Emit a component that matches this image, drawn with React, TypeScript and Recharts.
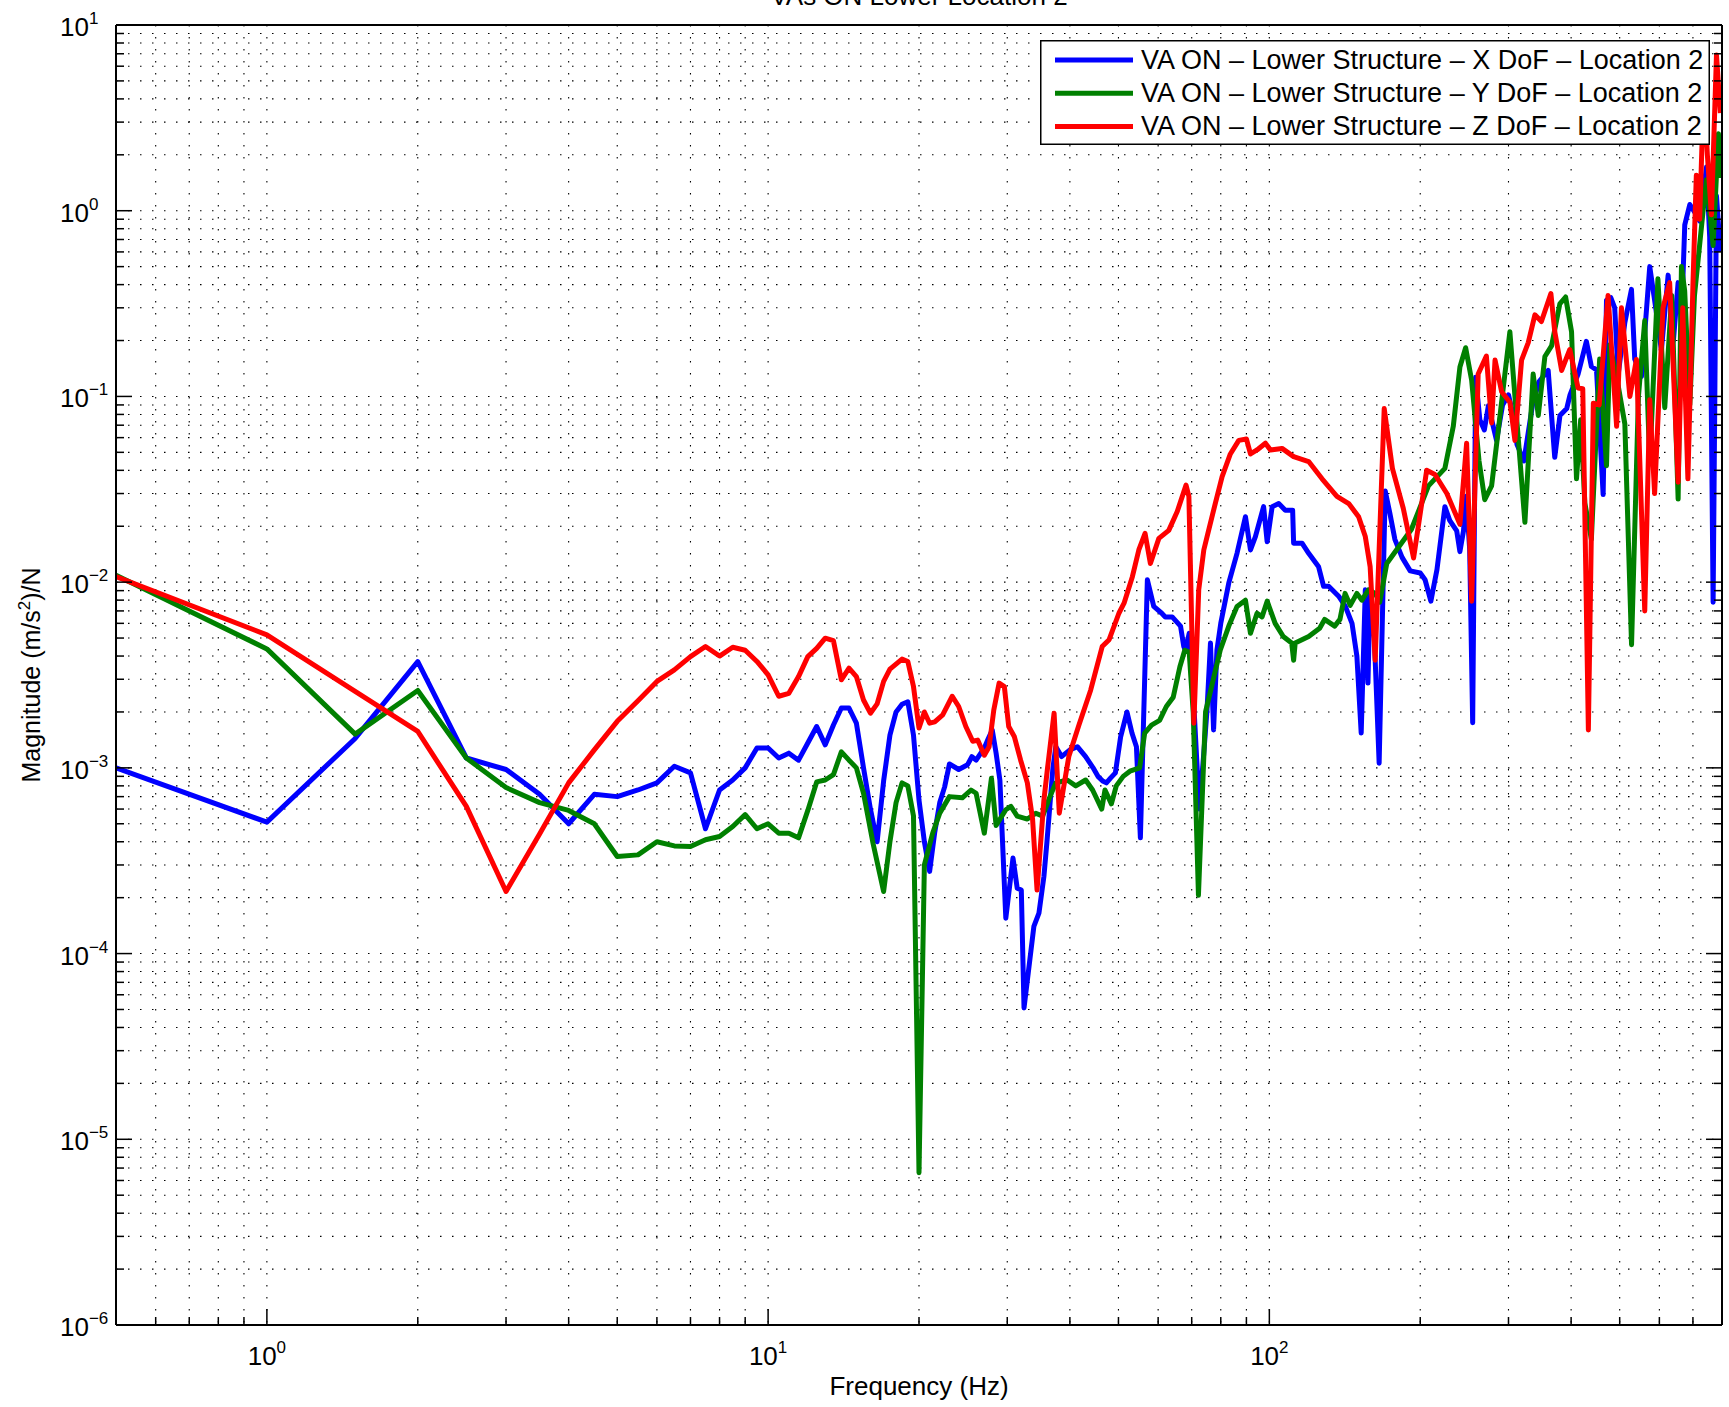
import React from 'react';
import { LineChart, Line, XAxis, YAxis, CartesianGrid, Legend, Label } from 'recharts';

const FONT = '"Liberation Sans", Arial, Helvetica, sans-serif';

// [frequency (Hz), magnitude ((m/s^2)/N)]
const xDof: [number, number][] = [
  [0.5, 1.0e-3], [1, 5.1e-4], [1.5, 1.44e-3], [2, 3.73e-3], [2.5, 1.13e-3], [3, 9.8e-4], [3.5, 7.2e-4],
  [4, 5.0e-4], [4.5, 7.2e-4], [5, 7.0e-4], [5.5, 7.6e-4], [6, 8.3e-4], [6.5, 1.02e-3], [7, 9.4e-4],
  [7.5, 4.7e-4], [8, 7.6e-4], [8.5, 8.6e-4], [9, 1.0e-3], [9.5, 1.28e-3], [10, 1.28e-3], [10.5, 1.13e-3],
  [11, 1.2e-3], [11.5, 1.1e-3], [12, 1.36e-3], [12.5, 1.67e-3], [13, 1.33e-3], [13.5, 1.7e-3], [14, 2.1e-3],
  [14.5, 2.1e-3], [15, 1.74e-3], [15.5, 1.0e-3], [16, 6.0e-4], [16.5, 4.0e-4], [17, 8.5e-4], [17.5, 1.5e-3],
  [18, 2.0e-3], [18.5, 2.2e-3], [19, 2.27e-3], [19.5, 1.5e-3], [20, 6.7e-4], [20.5, 4.0e-4], [21, 2.77e-4],
  [21.5, 4.5e-4], [22, 6.5e-4], [22.5, 7.9e-4], [23, 1.05e-3], [24, 9.8e-4], [25, 1.04e-3], [25.5, 1.15e-3],
  [26, 1.1e-3], [27, 1.28e-3], [27.5, 1.44e-3], [28, 1.6e-3], [28.5, 1.2e-3], [29, 8.6e-4], [29.8, 1.55e-4],
  [30.8, 3.27e-4], [31.4, 2.25e-4], [32, 2.2e-4], [32.4, 5.1e-5], [33.9, 1.4e-4], [34.7, 1.65e-4],
  [35.5, 2.6e-4], [36, 4.0e-4], [37, 1.0e-3], [37.5, 1.3e-3], [38.5, 1.15e-3], [40, 1.25e-3], [41.4, 1.3e-3],
  [43, 1.15e-3], [44.5, 1.0e-3], [45.5, 9.0e-4], [46.5, 8.5e-4], [47.3, 8.3e-4], [48.2, 8.8e-4],
  [49.3, 9.4e-4], [50.5, 1.47e-3], [52, 2.0e-3], [53.2, 1.54e-3], [54.3, 1.3e-3], [55.3, 4.2e-4],
  [57.1, 1.03e-2], [58.8, 7.4e-3], [61, 6.8e-3], [62, 6.5e-3], [64, 6.5e-3], [66.5, 5.8e-3], [67.5, 4.5e-3],
  [68, 4.3e-3], [69.2, 5.3e-3], [70.5, 2.5e-3], [72.5, 6.0e-4], [74, 1.2e-3], [75.1, 2.05e-3], [76.3, 4.7e-3],
  [77.4, 1.6e-3], [78.6, 4.3e-3], [80, 6.0e-3], [83, 9.9e-3], [86.2, 1.43e-2], [89.6, 2.25e-2],
  [91.7, 1.49e-2], [93.8, 1.76e-2], [97.4, 2.55e-2], [99, 1.65e-2], [101.3, 2.55e-2], [104.4, 2.65e-2],
  [107.6, 2.44e-2], [111.3, 2.44e-2], [111.8, 1.62e-2], [116.2, 1.62e-2], [119.8, 1.43e-2], [125.4, 1.21e-2],
  [128.3, 9.5e-3], [131.3, 9.5e-3], [137.5, 8.4e-3], [141.8, 7.4e-3], [146.2, 6.0e-3], [149.5, 4.0e-3],
  [152.5, 1.54e-3], [155.4, 9.1e-3], [157.3, 2.86e-3], [158.9, 9.1e-3], [162, 5.0e-3], [165.6, 1.06e-3],
  [170.3, 3.1e-2], [174, 2.34e-2], [178, 1.7e-2], [184, 1.36e-2], [191, 1.15e-2], [200, 1.12e-2],
  [204.5, 1.03e-2], [210, 7.9e-3], [216, 1.17e-2], [224, 2.55e-2], [229, 2.15e-2], [236.5, 1.89e-2],
  [240, 1.46e-2], [244, 1.89e-2], [247, 2.9e-2], [251, 1.5e-2], [254.5, 1.75e-3], [258, 0.127],
  [263, 7.5e-2], [268.5, 6.6e-2], [273.5, 8.9e-2], [284, 5.8e-2], [292, 9.0e-2], [300, 0.102],
  [306.7, 7.85e-2], [312, 5.5e-2], [322, 4.5e-2], [335, 9.0e-2], [345, 0.12], [360, 0.138], [371, 4.7e-2],
  [380, 7.9e-2], [392, 8.6e-2], [398, 0.102], [413, 0.132], [429, 0.198], [439, 0.145], [449.5, 0.139],
  [463.4, 2.96e-2], [470.6, 0.33], [480, 0.34], [488.7, 0.3], [496.5, 0.131], [512, 0.25], [527.8, 0.377],
  [535.8, 0.159], [552.5, 0.128], [574, 0.5], [590, 0.3], [605.6, 0.177], [624.6, 0.45], [640, 0.2],
  [653.9, 0.41], [664, 0.25], [674.2, 0.84], [690, 1.08], [706, 0.98], [722, 0.88], [745, 1.72], [756, 0.72],
  [768, 7.8e-3], [780, 1.2], [794, 0.6],
];

const yDof: [number, number][] = [
  [0.5, 1.09e-2], [1, 4.37e-3], [1.5, 1.52e-3], [2, 2.61e-3], [2.5, 1.13e-3], [3, 7.83e-4], [3.5, 6.5e-4],
  [4, 5.9e-4], [4.5, 5.0e-4], [5, 3.33e-4], [5.5, 3.4e-4], [6, 4.0e-4], [6.5, 3.8e-4], [7, 3.77e-4],
  [7.5, 4.1e-4], [8, 4.27e-4], [8.5, 4.83e-4], [9, 5.6e-4], [9.5, 4.7e-4], [10, 5.0e-4], [10.5, 4.45e-4],
  [11, 4.45e-4], [11.5, 4.2e-4], [12, 5.9e-4], [12.5, 8.4e-4], [13, 8.6e-4], [13.5, 9.2e-4], [14, 1.22e-3],
  [14.5, 1.1e-3], [15, 1.0e-3], [15.5, 7.3e-4], [16.2, 3.9e-4], [17, 2.16e-4], [17.5, 4.0e-4], [18, 6.5e-4],
  [18.5, 8.3e-4], [19, 8.0e-4], [19.5, 5.5e-4], [20, 6.6e-6], [20.5, 3.0e-4], [21.3, 4.45e-4], [22, 5.7e-4],
  [23, 7.0e-4], [24.4, 6.9e-4], [25.4, 7.6e-4], [26, 7.3e-4], [27, 4.45e-4], [27.9, 8.8e-4], [28.5, 4.9e-4],
  [29.8, 5.95e-4], [30.5, 6.2e-4], [31.4, 5.5e-4], [32.9, 5.3e-4], [34.2, 5.7e-4], [35.3, 5.5e-4],
  [36.5, 7.0e-4], [37.5, 8.3e-4], [39.5, 8.6e-4], [41.1, 8.0e-4], [43, 8.6e-4], [44.4, 7.6e-4],
  [46.3, 6.0e-4], [47, 7.6e-4], [48.4, 6.4e-4], [49.5, 8.0e-4], [51.1, 9.0e-4], [52.7, 9.6e-4],
  [55.1, 1.0e-3], [56.4, 1.54e-3], [58.2, 1.7e-3], [60.4, 1.8e-3], [62.3, 2.14e-3], [64.3, 2.4e-3],
  [66.3, 3.5e-3], [67.8, 4.3e-3], [69.2, 4.2e-3], [70.5, 1.97e-3], [72.2, 2.06e-4], [74.6, 2.0e-3],
  [77.4, 3.04e-3], [79.8, 4.3e-3], [83, 5.8e-3], [86.2, 7.4e-3], [89.6, 8.0e-3], [91.7, 5.3e-3],
  [94.5, 6.8e-3], [96.7, 6.5e-3], [99, 7.9e-3], [102.7, 6.0e-3], [106.6, 5.1e-3], [110.8, 4.7e-3],
  [111.8, 3.8e-3], [112.6, 4.7e-3], [119.8, 5.1e-3], [126, 5.65e-3], [128.9, 6.3e-3], [135, 5.8e-3],
  [138.3, 6.3e-3], [141.6, 8.7e-3], [145, 7.5e-3], [149.5, 8.7e-3], [153, 8.0e-3], [157.7, 9.1e-3],
  [162.6, 8.7e-3], [166, 7.8e-3], [171.5, 1.26e-2], [178, 1.45e-2], [192, 1.92e-2], [207.7, 3.3e-2],
  [224, 4.1e-2], [232.8, 6.9e-2], [240, 0.144], [246.4, 0.183], [253.3, 0.122], [262, 4.5e-2],
  [269, 2.78e-2], [277.6, 3.3e-2], [286.3, 6.6e-2], [301.9, 0.223], [309, 0.10], [323.5, 2.1e-2],
  [336, 0.132], [344, 7.9e-2], [354.6, 0.164], [365.6, 0.187], [379.8, 0.315], [390, 0.343], [400.8, 0.223],
  [410, 3.6e-2], [418, 7.5e-2], [426, 2.67e-2], [439, 1.7e-2], [456, 0.159], [470.6, 4.24e-2], [478, 0.19],
  [495, 0.12], [512, 7.1e-2], [528, 4.6e-3], [545, 0.1], [561, 0.256], [574, 4.4e-2], [596, 0.43],
  [615, 8.7e-2], [635, 0.35], [654, 2.8e-2], [664, 0.5], [674, 0.37], [690, 9.0e-2], [705, 0.35],
  [733, 0.98], [745, 1.47], [768, 0.65], [787, 2.6], [794, 1.5],
];

const zDof: [number, number][] = [
  [0.5, 1.07e-2], [1, 5.2e-3], [1.5, 2.58e-3], [2, 1.57e-3], [2.5, 6.2e-4], [3, 2.16e-4], [3.5, 4.4e-4],
  [4, 8.3e-4], [4.5, 1.25e-3], [5, 1.78e-3], [5.5, 2.3e-3], [6, 2.92e-3], [6.5, 3.37e-3], [7, 3.97e-3],
  [7.5, 4.5e-3], [8, 4.0e-3], [8.5, 4.46e-3], [9, 4.3e-3], [9.5, 3.74e-3], [10, 3.17e-3], [10.5, 2.43e-3],
  [11, 2.52e-3], [11.5, 3.1e-3], [12, 3.97e-3], [12.5, 4.4e-3], [13, 4.99e-3], [13.5, 4.84e-3], [14, 2.98e-3],
  [14.5, 3.44e-3], [15, 3.1e-3], [15.5, 2.32e-3], [16, 1.97e-3], [16.5, 2.21e-3], [17, 2.92e-3],
  [17.5, 3.4e-3], [18.5, 3.85e-3], [19, 3.74e-3], [19.5, 2.74e-3], [20, 1.64e-3], [20.5, 2.0e-3],
  [21, 1.74e-3], [21.5, 1.77e-3], [22.3, 1.93e-3], [23.3, 2.43e-3], [24, 2.14e-3], [24.8, 1.67e-3],
  [25.6, 1.39e-3], [26.2, 1.41e-3], [27, 1.17e-3], [27.6, 1.3e-3], [28.2, 2.05e-3], [28.9, 2.86e-3],
  [29.6, 2.74e-3], [30.2, 1.67e-3], [31, 1.47e-3], [31.9, 1.1e-3], [32.9, 8.3e-4], [33.7, 5.3e-4],
  [34.4, 2.2e-4], [35.5, 6.7e-4], [36.1, 1.0e-3], [37.2, 1.97e-3], [38.1, 5.7e-4], [39.8, 1.15e-3],
  [41.7, 1.7e-3], [44, 2.62e-3], [46.4, 4.5e-3], [47.9, 4.9e-3], [50.1, 6.8e-3], [51.3, 7.7e-3],
  [53.3, 1.07e-2], [54.9, 1.49e-2], [56.5, 1.83e-2], [57.9, 1.26e-2], [60.2, 1.72e-2], [63, 1.9e-2],
  [65.5, 2.4e-2], [68.2, 3.33e-2], [69.1, 2.9e-2], [70.7, 1.74e-3], [72.3, 9.1e-3], [74, 1.49e-2],
  [75.7, 1.91e-2], [78, 2.65e-2], [80.5, 3.7e-2], [83.6, 4.9e-2], [86.9, 5.8e-2], [90, 5.9e-2],
  [91.7, 4.9e-2], [94.5, 5.15e-2], [98.2, 5.6e-2], [100.5, 5.15e-2], [106, 5.25e-2], [111.8, 4.74e-2],
  [119.8, 4.46e-2], [127.4, 3.6e-2], [136.4, 2.9e-2], [144, 2.65e-2], [150.7, 2.25e-2], [155.4, 1.76e-2],
  [158.9, 1.21e-2], [162.6, 3.8e-3], [169.5, 8.6e-2], [176, 4.1e-2], [185, 2.5e-2], [194, 1.35e-2],
  [206, 4.0e-2], [214, 3.8e-2], [226, 3.0e-2], [240, 2.05e-2], [247.5, 5.6e-2], [253.3, 7.9e-3],
  [261, 0.132], [271, 0.165], [277.6, 7.2e-2], [282, 0.157], [290.7, 0.106], [302, 9.3e-2], [309, 5.8e-2],
  [318.6, 0.157], [328.5, 0.195], [338.7, 0.275], [349, 0.253], [364.5, 0.358], [371, 0.224], [383, 0.138],
  [397.6, 0.179], [413, 0.111], [422, 0.11], [433, 1.6e-3], [443, 9.2e-2], [455, 9.0e-2], [474, 0.35],
  [493, 6.9e-2], [504, 0.30], [524, 0.1], [540, 0.158], [561, 7.0e-3], [574, 9.6e-2], [587, 3.0e-2],
  [610, 0.3], [629, 0.41], [654, 3.45e-2], [668, 0.3], [684, 3.6e-2], [700, 0.4], [711, 1.55], [722, 0.9],
  [736, 4.8], [748, 2.0], [762, 0.95], [780, 6.9], [794, 3.35],
];

const seriesNames = [
  'VA ON \u2013 Lower Structure \u2013 X DoF \u2013 Location 2',
  'VA ON \u2013 Lower Structure \u2013 Y DoF \u2013 Location 2',
  'VA ON \u2013 Lower Structure \u2013 Z DoF \u2013 Location 2',
];
const seriesColors = ['#0000ff', '#008000', '#ff0000'];

const freqTicks = [
  0.5, 0.6, 0.7, 0.8, 0.9, 1, 2, 3, 4, 5, 6, 7, 8, 9, 10, 20, 30, 40, 50, 60, 70, 80, 90,
  100, 200, 300, 400, 500, 600, 700, 800,
];
const magTicks = [
  1e-6, 2e-6, 3e-6, 4e-6, 5e-6, 6e-6, 7e-6, 8e-6, 9e-6,
  1e-5, 2e-5, 3e-5, 4e-5, 5e-5, 6e-5, 7e-5, 8e-5, 9e-5,
  1e-4, 2e-4, 3e-4, 4e-4, 5e-4, 6e-4, 7e-4, 8e-4, 9e-4,
  1e-3, 2e-3, 3e-3, 4e-3, 5e-3, 6e-3, 7e-3, 8e-3, 9e-3,
  1e-2, 2e-2, 3e-2, 4e-2, 5e-2, 6e-2, 7e-2, 8e-2, 9e-2,
  0.1, 0.2, 0.3, 0.4, 0.5, 0.6, 0.7, 0.8, 0.9,
  1, 2, 3, 4, 5, 6, 7, 8, 9, 10,
];

const titleText = 'VAs ON Lower Location 2';
const xTitle = 'Frequency (Hz)';

const series = [xDof, yDof, zDof].map((pts) => pts.map(([f, v]) => ({ f, v })));

const isDecade = (v: number) => Math.abs(Math.log10(v) - Math.round(Math.log10(v))) < 1e-6;
const expText = (v: number) => {
  const e = Math.round(Math.log10(v));
  return e < 0 ? '\u2212' + Math.abs(e) : String(e);
};

const MAJOR = 16;
const MINOR = 8;

function PowerLabel({ x, y, v, anchor }: { x: number; y: number; v: number; anchor: string }) {
  return (
    <text x={x} y={y} textAnchor={anchor} fontFamily={FONT} fontSize={26} fill="#000">
      10<tspan dy={-12} fontSize={17}>{expText(v)}</tspan>
    </text>
  );
}

function BottomTick(props: any) {
  const { x, y, payload } = props;
  const major = isDecade(payload.value);
  return (
    <g>
      <line x1={x} x2={x} y1={y} y2={y - (major ? MAJOR : MINOR)} stroke="#000" strokeWidth={1.5} />
      {major && <PowerLabel x={x} y={y + 40} v={payload.value} anchor="middle" />}
    </g>
  );
}

function TopTick(props: any) {
  const { x, y, payload } = props;
  const major = isDecade(payload.value);
  return <line x1={x} x2={x} y1={y} y2={y + (major ? MAJOR : MINOR)} stroke="#000" strokeWidth={1.5} />;
}

function LeftTick(props: any) {
  const { x, y, payload } = props;
  const major = isDecade(payload.value);
  return (
    <g>
      <line x1={x} x2={x + (major ? MAJOR : MINOR)} y1={y} y2={y} stroke="#000" strokeWidth={1.5} />
      {major && <PowerLabel x={x - 56} y={y + 11} v={payload.value} anchor="start" />}
    </g>
  );
}

function RightTick(props: any) {
  const { x, y, payload } = props;
  const major = isDecade(payload.value);
  return <line x1={x} x2={x - (major ? MAJOR : MINOR)} y1={y} y2={y} stroke="#000" strokeWidth={1.5} />;
}

function XTitle(props: any) {
  const vb = props.viewBox;
  return (
    <text x={vb.x + vb.width / 2} y={vb.y + 70} textAnchor="middle" fontFamily={FONT} fontSize={26} fill="#000">
      {xTitle}
    </text>
  );
}

function PlotTitle(props: any) {
  const vb = props.viewBox;
  return (
    <text x={vb.x + vb.width / 2} y={vb.y - 19} textAnchor="middle" fontFamily={FONT} fontSize={26} fill="#000">
      {titleText}
    </text>
  );
}

function YTitle(props: any) {
  const vb = props.viewBox;
  const x = vb.x - 75;
  const y = vb.y + vb.height / 2;
  return (
    <text x={x} y={y} transform={`rotate(-90, ${x}, ${y})`} textAnchor="middle" fontFamily={FONT} fontSize={25} fill="#000">
      Magnitude (m/s<tspan dy={-10} fontSize={17}>2</tspan><tspan dy={10}>)/N</tspan>
    </text>
  );
}

function LegendBox() {
  return (
    <svg width={670} height={105} style={{ display: 'block' }}>
      <rect x={0.75} y={0.75} width={668.5} height={103.5} fill="#fff" stroke="#000" strokeWidth={1.5} />
      {seriesNames.map((name, i) => {
        const cy = 20 + i * 33.2;
        return (
          <g key={name}>
            <line x1={15} x2={93} y1={cy} y2={cy} stroke={seriesColors[i]} strokeWidth={5} />
            <text x={101} y={cy + 9} fontFamily={FONT} fontSize={27} fill="#000">{name}</text>
          </g>
        );
      })}
    </svg>
  );
}

export default function App() {
  return (
    <div style={{ position: 'absolute', left: 0, top: 0, width: 1729, height: 1407, background: '#fff' }}>
      <LineChart width={1729} height={1407} margin={{ top: 24, right: 6, bottom: 81, left: 115 }}>
        <CartesianGrid stroke="#000" strokeWidth={1.1} strokeDasharray="1.5 10.5" />
        <XAxis
          dataKey="f" type="number" scale="log" domain={[0.5, 800]} allowDataOverflow
          ticks={freqTicks} interval={0} height={1} tickSize={0} tickMargin={0} tickLine={false}
          axisLine={{ stroke: '#000', strokeWidth: 2 }} tick={<BottomTick />}
        >
          <Label content={XTitle} />
        </XAxis>
        <XAxis
          xAxisId="top" orientation="top" type="number" scale="log" domain={[0.5, 800]} allowDataOverflow
          ticks={freqTicks} interval={0} height={1} tickSize={0} tickMargin={0} tickLine={false}
          axisLine={{ stroke: '#000', strokeWidth: 2 }} tick={<TopTick />}
        >
          <Label content={PlotTitle} />
        </XAxis>
        <YAxis
          type="number" scale="log" domain={[1e-6, 10]} allowDataOverflow
          ticks={magTicks} interval={0} width={1} tickSize={0} tickMargin={0} tickLine={false}
          axisLine={{ stroke: '#000', strokeWidth: 2 }} tick={<LeftTick />}
        >
          <Label content={YTitle} />
        </YAxis>
        <YAxis
          yAxisId="right" orientation="right" type="number" scale="log" domain={[1e-6, 10]} allowDataOverflow
          ticks={magTicks} interval={0} width={1} tickSize={0} tickMargin={0} tickLine={false}
          axisLine={{ stroke: '#000', strokeWidth: 2 }} tick={<RightTick />}
        />
        {series.map((d, i) => (
          <Line
            key={seriesNames[i]} data={d} dataKey="v" name={seriesNames[i]} type="linear"
            stroke={seriesColors[i]} strokeWidth={5} dot={false} activeDot={false}
            strokeLinejoin="round" isAnimationActive={false}
          />
        ))}
        <Legend
          layout="horizontal" verticalAlign="middle" align="center"
          wrapperStyle={{ left: 1040, top: 40, width: 670, height: 105 }}
          content={() => <LegendBox />}
        />
      </LineChart>
    </div>
  );
}
